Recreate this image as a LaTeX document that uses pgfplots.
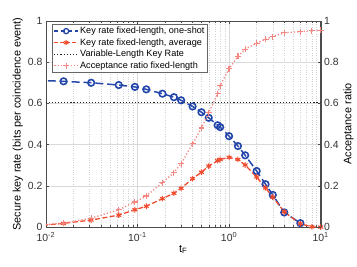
\documentclass[border=0pt]{standalone}
\usepackage{pgfplots}
\pgfplotsset{compat=1.18}
\usepackage{fontspec}
\setmainfont{Liberation Sans}
\definecolor{bluec}{RGB}{35,70,170}
\definecolor{redc}{RGB}{240,75,45}
\definecolor{pinkc}{RGB}{244,135,130}
\pgfplotstableread{
t y
0.0078 0.712
0.015625 0.707
0.03125 0.700
0.0625 0.689
0.09375 0.680
0.125 0.668
0.1875 0.647
0.25 0.630
0.3 0.615
0.4 0.585
0.5 0.557
0.6 0.530
0.75 0.494
0.8 0.485
1.0 0.441
1.25 0.393
1.5 0.348
2.0 0.272
2.5 0.208
3.0 0.156
4.0 0.071
6.0 0.019
}\oneshot
\pgfplotstableread{
t y
0.0078 0.005
0.015625 0.018
0.03125 0.034
0.0625 0.058
0.09375 0.084
0.125 0.101
0.1875 0.138
0.25 0.164
0.3 0.188
0.4 0.235
0.5 0.266
0.6 0.296
0.75 0.322
0.8 0.328
1.0 0.338
1.25 0.328
1.5 0.301
2.0 0.243
2.5 0.190
3.0 0.145
4.0 0.074
6.0 0.016
8.0 0.001
10.0 0.0
}\average
\pgfplotstableread{
t y
0.0078 0.008
0.015625 0.019
0.03125 0.043
0.0625 0.084
0.09375 0.122
0.125 0.151
0.1875 0.216
0.25 0.264
0.3 0.308
0.4 0.404
0.5 0.481
0.6 0.554
0.75 0.647
0.8 0.686
1.0 0.768
1.25 0.828
1.5 0.863
2.0 0.892
2.5 0.911
3.0 0.924
4.0 0.942
6.0 0.948
8.0 0.953
10.0 0.955
}\accept
\begin{document}
\begin{tikzpicture}
\pgfplotsset{
  every axis/.append style={
    scale only axis, width=276bp, height=207bp,
    xmode=log, xmin=0.01, xmax=10, ymin=0, ymax=1,
    ytick={0,0.2,0.4,0.6,0.8,1},
    yticklabels={0,0.2,0.4,0.6,0.8,1},
    tick align=inside,
    major tick length=3pt, minor tick length=1.8pt,
    tick label style={font=\fontsize{10.5}{12}\selectfont, black!80},
    label style={font=\fontsize{11}{13}\selectfont},
    axis line style={black!70},
    every tick/.style={black!70},
  },
}
\begin{axis}[
  xtick={0.01,0.1,1,10},
  xticklabels={{10\textsuperscript{-2}},{10\textsuperscript{-1}},{10\textsuperscript{0}},{10\textsuperscript{1}}},
  xticklabel style={yshift=-1.5pt},
  xlabel={t\textsubscript{F}},
  ylabel={Secure key rate (bits per coincidence event)},
  ylabel style={yshift=-2pt},
  xlabel style={yshift=3pt},
  ymajorgrids, xminorgrids, xmajorgrids,
  major grid style={black!15, line width=0.4pt},
  minor grid style={black!18, dotted, line width=0.4pt},
  ytick pos=left,
]
\addplot[bluec, line width=1.5pt, dash pattern=on 8pt off 4pt, mark=o, mark size=3.3pt, mark options={solid, fill=white, line width=1.6pt}] table {\oneshot};
\addplot[redc, line width=1.3pt, dash pattern=on 5pt off 2.5pt, mark=asterisk, mark size=2.8pt, mark options={solid, line width=1.1pt}] table {\average};
\addplot[black!85, line width=1.1pt, dotted] coordinates {(0.01,0.605) (10,0.605)};
\end{axis}
\begin{axis}[
  axis x line=none,
  axis y line*=right,
  ylabel={Acceptance ratio},
  ylabel style={yshift=2pt},
  legend style={at={(0.022,0.985)}, anchor=north west, draw=black!60, fill=white,
    font=\fontsize{9.2}{10}\selectfont, inner sep=1.5pt, row sep=0.6pt,
    nodes={inner sep=1.4pt}},
  legend cell align=left,
  legend image code/.code={\draw[mark repeat=2,mark phase=2] plot coordinates {(0cm,0cm) (0.42cm,0cm) (0.84cm,0cm)};},
]
\addlegendimage{bluec, line width=1.5pt, dash pattern=on 4pt off 3pt, mark=o, mark size=2.6pt, mark options={solid, fill=white, line width=1.3pt}}
\addlegendentry{Key rate fixed-length, one-shot}
\addlegendimage{redc, line width=1.3pt, dash pattern=on 4pt off 2pt, mark=asterisk, mark size=2.6pt, mark options={solid, line width=1.1pt}}
\addlegendentry{Key rate fixed-length, average}
\addlegendimage{black!85, line width=1.1pt, dotted}
\addlegendentry{Variable-Length Key Rate}
\addplot[pinkc, line width=1.3pt, dotted, mark=+, mark size=3pt, mark options={solid, line width=1.2pt}] table {\accept};
\addlegendentry{Acceptance ratio fixed-length}
\end{axis}
\path (current axis.south west) ++(-46bp,-40bp) rectangle ++(357bp,268bp);
\end{tikzpicture}
\end{document}
